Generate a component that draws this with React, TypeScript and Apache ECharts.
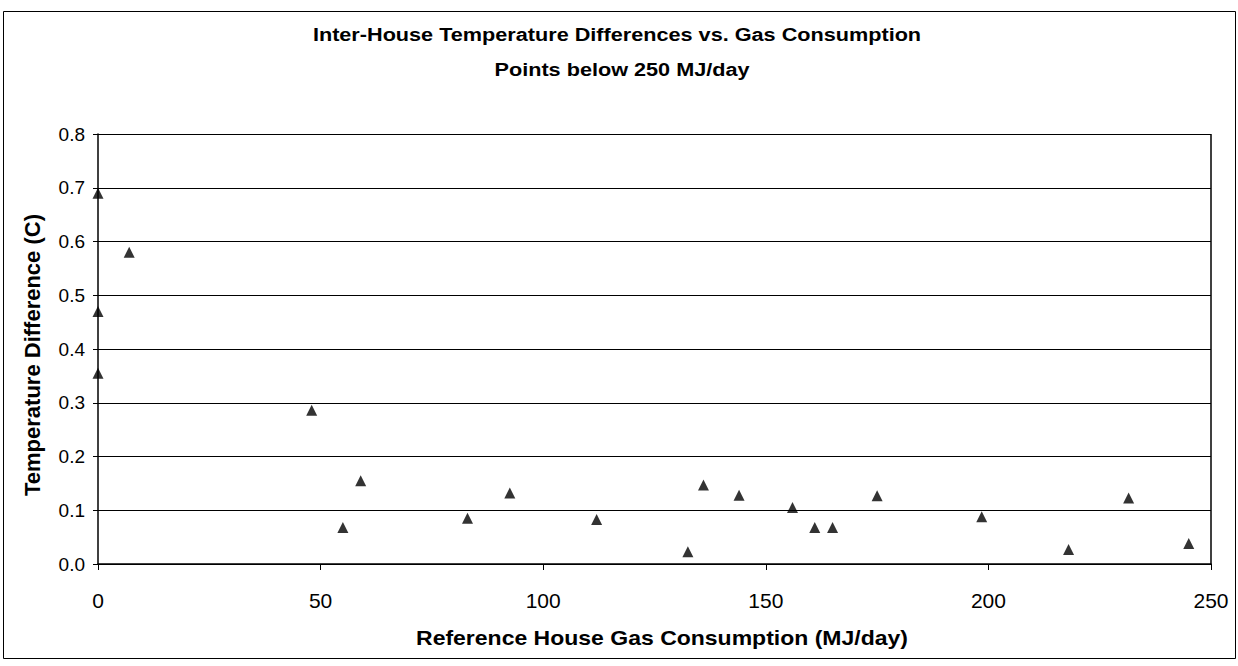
import React, { useEffect, useRef } from "react";
import * as echarts from "echarts";

const gasConsumption = [0, 0, 0, 7, 48, 55, 59, 83, 92.5, 112, 132.5, 136, 144, 156, 161, 165, 175, 198.5, 218, 231.5, 245];
const tempDifference = [0.69, 0.47, 0.355, 0.58, 0.286, 0.068, 0.155, 0.085, 0.132, 0.083, 0.023, 0.147, 0.128, 0.105, 0.068, 0.068, 0.127, 0.088, 0.027, 0.123, 0.038];
const titleLines = ["Inter-House Temperature Differences vs. Gas Consumption", "Points below 250 MJ/day"];
const xName = "Reference House Gas Consumption (MJ/day)";
const yName = "Temperature Difference (C)";

export default function App() {
  const ref = useRef<HTMLDivElement>(null);
  useEffect(() => {
    if (!ref.current) return;
    const chart = echarts.init(ref.current, null, { renderer: "svg" });
    const points = gasConsumption.map((x, i) => [x, tempDifference[i]]);
    const font = "Liberation Sans, Arial, sans-serif";
    const boldText = (text: string, x: number, y: number, size: number, scaleX: number, rotation = 0) => ({
      type: "text",
      x,
      y,
      scaleX,
      rotation,
      silent: true,
      style: {
        text,
        x: 0,
        y: 0,
        textAlign: "center",
        textVerticalAlign: "middle",
        verticalAlign: "middle",
        fontFamily: font,
        fontWeight: "bold",
        fontSize: size,
        fill: "#000",
      },
    });
    chart.setOption({
      animation: false,
      backgroundColor: "#fff",
      graphic: [
        {
          type: "rect",
          shape: { x: 3.5, y: 11.5, width: 1232, height: 647 },
          style: { fill: "none", stroke: "#000", lineWidth: 1 },
          silent: true,
        },
        boldText(titleLines[0], 617, 34, 19, 1.14),
        boldText(titleLines[1], 622, 69, 19, 1.14),
        boldText(xName, 662, 638, 20, 1.15),
        boldText(yName, 32, 355, 22, 1, Math.PI / 2),
      ],
      grid: { left: 98, right: 27, top: 134, bottom: 102 },
      xAxis: {
        type: "value",
        min: 0,
        max: 250,
        interval: 50,
        axisLine: { show: true, lineStyle: { color: "#000", width: 1.5 } },
        axisTick: { show: true, inside: false, length: 6, lineStyle: { color: "#000" } },
        axisLabel: { fontFamily: font, fontSize: 21, color: "#000", margin: 26 },
        splitLine: { show: false },
      },
      yAxis: {
        type: "value",
        min: 0,
        max: 0.8,
        interval: 0.1,
        axisLine: { show: true, lineStyle: { color: "#000", width: 1.5 } },
        axisTick: { show: true, inside: false, length: 5, lineStyle: { color: "#000" } },
        axisLabel: { fontFamily: font, fontSize: 19, color: "#000", margin: 13, formatter: (v: number) => v.toFixed(1) },
        splitLine: { show: true, lineStyle: { color: "#000", width: 1 } },
      },
      series: [
        {
          type: "scatter",
          data: points,
          symbol: "triangle",
          symbolSize: 11,
          itemStyle: { color: "#000" },
        },
        {
          type: "line",
          data: [],
          markLine: {
            silent: true,
            symbol: "none",
            label: { show: false },
            lineStyle: { color: "#000", type: "solid", width: 1.5 },
            data: [[{ coord: [250, 0] }, { coord: [250, 0.8] }]],
          },
        },
      ],
    });
    return () => chart.dispose();
  }, []);
  return <div ref={ref} style={{ position: "absolute", left: 0, top: 0, width: 1238, height: 666 }} />;
}
